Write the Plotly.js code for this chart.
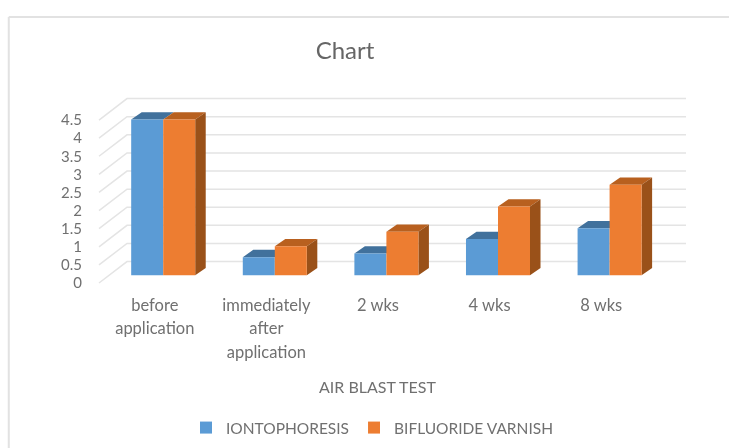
<!DOCTYPE html>
<html>
<head>
<meta charset="utf-8">
<script src="https://cdn.plot.ly/plotly-3.0.1.min.js"></script>
<style>html,body{margin:0;padding:0;background:#fff}#chart{width:729px;height:448px;filter:blur(0.5px)}</style>
</head>
<body>
<div id="chart"></div>
<script>
const categories = ["before<br>application", "immediately<br>after<br>application", "2 wks", "4 wks", "8 wks"];
const iontophoresis = [4.3, 0.5, 0.6, 1.0, 1.3];
const bifluorideVarnish = [4.3, 0.8, 1.2, 1.9, 2.5];
const valueTicks = [0, 0.5, 1, 1.5, 2, 2.5, 3, 3.5, 4, 4.5];

const W = 729, H = 448;
// px position of the front floor edge (value axis 0..4.5, five category slots)
const frontL = 99.2, frontR = 657, frontT = 120, frontB = 282.7;
const ux = (frontR - frontL) / 5, uy = (frontB - frontT) / 4.5;   // px per data unit
const px2x = p => p / ux, px2y = p => p / uy;

// drawing area is a little larger than the front edge so the oblique walls fit
const plotL = frontL - 2, plotR = 690, plotT = 94, plotB = frontB + 3;
const xRange = [-0.5 - px2x(frontL - plotL), 4.5 + px2x(plotR - frontR)];
const yRange = [-px2y(plotB - frontB), 4.5 + px2y(frontT - plotT)];

// oblique projection of the 3D floor, expressed in data units
const wallDX = px2x(28), wallDY = px2y(21.4), wallEnd = px2x(686 - frontR);
const barLift = px2y(7.7), barShift = px2x(8.4), barW = px2x(32);
const depthX = px2x(10.5), depthY = px2y(7.3);

const xs = categories.map((_, i) => i);
const gridX = [], gridY = [];
valueTicks.forEach(v => {
  gridX.push(-0.5, -0.5 + wallDX, 4.5 + wallEnd, null);
  gridY.push(v, v + wallDY, v + wallDY, null);
});

function faces(vals, left, topColor, sideColor, withSide) {
  const tx = [], ty = [], sx = [], sy = [];
  vals.forEach((v, i) => {
    const x0 = i + left, x1 = x0 + barW, y0 = barLift, y1 = barLift + v;
    tx.push(x0, x1, x1 + depthX, x0 + depthX, x0, null);
    ty.push(y1, y1, y1 + depthY, y1 + depthY, y1, null);
    sx.push(x1, x1 + depthX, x1 + depthX, x1, x1, null);
    sy.push(y0, y0 + depthY, y1 + depthY, y1, y0, null);
  });
  const mk = (x, y, c) => ({type: "scatter", mode: "lines", x, y, fill: "toself", fillcolor: c,
    line: {width: 0, color: c}, hoverinfo: "skip", showlegend: false, xaxis: "x", yaxis: "y"});
  const out = [mk(tx, ty, topColor)];
  if (withSide) out.push(mk(sx, sy, sideColor));
  return out;
}

const blueLeft = barShift - barW, orangeLeft = barShift;
const bar = (name, vals, left, color) => ({
  type: "bar", name, x: xs, y: vals, base: vals.map(() => barLift),
  offset: left, width: barW, marker: {color, line: {width: 0}},
  xaxis: "x2", yaxis: "y2"
});

const data = [
  bar("IONTOPHORESIS", iontophoresis, blueLeft, "#5B9BD5"),
  bar("BIFLUORIDE VARNISH", bifluorideVarnish, orangeLeft, "#ED7D31"),
  {type: "scatter", mode: "lines", x: gridX, y: gridY, line: {color: "#E4E4E4", width: 1.5},
   hoverinfo: "skip", showlegend: false, connectgaps: false, xaxis: "x", yaxis: "y"},
  ...faces(iontophoresis, blueLeft, "#41719C", "#41719C", false),
  ...faces(bifluorideVarnish, orangeLeft, "#B8601F", "#9A5119", true)
];

const font = "Lato, sans-serif", grey = "#707070";
const yPaper = p => (plotB - p) / (plotB - plotT);
const xPaper = p => (p - plotL) / (plotR - plotL);
const layout = {
  width: W, height: H,
  margin: {l: plotL, r: W - plotR, t: plotT, b: H - plotB, pad: 0},
  paper_bgcolor: "#fff", plot_bgcolor: "rgba(0,0,0,0)",
  font: {family: font, color: grey, size: 16},
  title: {text: "Chart", x: 345 / W, xanchor: "center", xref: "container",
          y: 1 - 51 / H, yanchor: "middle", yref: "container",
          font: {family: font, size: 24, color: "#666666"}},
  barmode: "overlay",
  xaxis: {range: xRange, tickmode: "array", tickvals: xs,
          ticktext: categories.map(c => '<span style="font-size:16.5px">' + c + '</span>'),
          tickfont: {size: 18, color: grey, family: font}, tickangle: 0,
          showgrid: false, zeroline: false, showline: false, ticks: "", ticklabelstandoff: 6,
          automargin: false},
  yaxis: {range: yRange, tickmode: "array", tickvals: valueTicks,
          tickfont: {size: 15, color: grey, family: font},
          showgrid: false, zeroline: false, showline: false, ticks: "", ticklabelstandoff: 14,
          automargin: false},
  xaxis2: {range: xRange, overlaying: "x", visible: false},
  yaxis2: {range: yRange, overlaying: "y", visible: false},
  legend: {orientation: "h", x: 186 / W, xref: "container", xanchor: "left",
           y: 1 - 428 / H, yref: "container", yanchor: "middle",
           font: {size: 15.5, color: grey, family: font}, bgcolor: "rgba(0,0,0,0)",
           traceorder: "normal"},
  annotations: [{text: "AIR BLAST TEST", xref: "x", x: 2, xanchor: "center",
                 yref: "paper", y: yPaper(386), yanchor: "middle", showarrow: false,
                 font: {size: 16, color: grey, family: font}}],
  shapes: [
    {type: "line", xref: "paper", yref: "paper", x0: xPaper(9), x1: xPaper(W), y0: yPaper(17), y1: yPaper(17),
     line: {color: "#E2E2E2", width: 2}},
    {type: "line", xref: "paper", yref: "paper", x0: xPaper(9), x1: xPaper(9), y0: yPaper(17), y1: yPaper(H),
     line: {color: "#E2E2E2", width: 2}}
  ]
};
Plotly.newPlot("chart", data, layout, {displayModeBar: false, responsive: false});
</script>
</body>
</html>
